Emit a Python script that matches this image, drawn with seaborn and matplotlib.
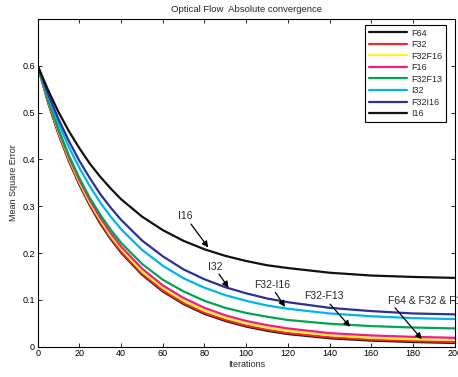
import numpy as np
import pandas as pd
import matplotlib
matplotlib.use("Agg")
import matplotlib.pyplot as plt
import seaborn as sns
from matplotlib.lines import Line2D

iterations = [0, 5, 10, 15, 20, 25, 30, 35, 40, 50, 60, 70, 80, 90, 100, 110, 120, 140, 160, 180, 200]

F64 = [0.600, 0.521, 0.454, 0.396, 0.346, 0.302, 0.263, 0.230, 0.201, 0.154, 0.118, 0.091, 0.070, 0.055, 0.043, 0.034, 0.027, 0.018, 0.013, 0.010, 0.008]
F32 = [0.600, 0.523, 0.456, 0.398, 0.348, 0.304, 0.265, 0.232, 0.203, 0.156, 0.120, 0.093, 0.072, 0.057, 0.045, 0.036, 0.029, 0.020, 0.015, 0.012, 0.010]
F32F16 = [0.600, 0.525, 0.459, 0.402, 0.352, 0.308, 0.271, 0.237, 0.209, 0.161, 0.126, 0.098, 0.078, 0.062, 0.050, 0.041, 0.034, 0.025, 0.019, 0.016, 0.015]
F16 = [0.600, 0.526, 0.462, 0.405, 0.356, 0.313, 0.276, 0.243, 0.214, 0.167, 0.131, 0.104, 0.083, 0.067, 0.055, 0.046, 0.039, 0.029, 0.024, 0.021, 0.019]
F32F13 = [0.600, 0.527, 0.464, 0.408, 0.360, 0.318, 0.282, 0.250, 0.222, 0.177, 0.143, 0.118, 0.098, 0.083, 0.072, 0.064, 0.057, 0.049, 0.044, 0.041, 0.039]
I32 = [0.600, 0.535, 0.477, 0.426, 0.382, 0.343, 0.308, 0.278, 0.251, 0.207, 0.173, 0.146, 0.126, 0.110, 0.098, 0.088, 0.081, 0.071, 0.065, 0.061, 0.059]
F32I16 = [0.600, 0.540, 0.486, 0.439, 0.397, 0.360, 0.326, 0.297, 0.271, 0.227, 0.193, 0.165, 0.144, 0.127, 0.114, 0.103, 0.095, 0.083, 0.076, 0.071, 0.069]
I16 = [0.600, 0.548, 0.501, 0.460, 0.424, 0.391, 0.363, 0.338, 0.315, 0.278, 0.249, 0.226, 0.208, 0.194, 0.183, 0.174, 0.168, 0.158, 0.152, 0.149, 0.147]

series_names = ["F64", "F32", "F32F16", "F16", "F32F13", "I32", "F32I16", "I16"]
series_values = [F64, F32, F32F16, F16, F32F13, I32, F32I16, I16]
series_colors = ["#111111", "#ee2b2b", "#fff12e", "#ec1e8c", "#00a551", "#00b4ee", "#2e3192", "#111111"]

x_ticks = [0, 20, 40, 60, 80, 100, 120, 140, 160, 180, 200]
y_ticks = [0, 0.1, 0.2, 0.3, 0.4, 0.5, 0.6]
y_tick_labels = ["0", "0.1", "0.2", "0.3", "0.4", "0.5", "0.6"]

annot_labels = ["I16", "I32", "F32-I16", "F32-F13", "F64 & F32 & F16"]
annot_text = [(71.0, 0.279), (85.0, 0.170), (112.2, 0.131), (137.3, 0.109), (187.0, 0.097)]
arrow_starts = [(73.5, 0.262), (87.0, 0.155), (114.0, 0.116), (140.2, 0.091), (171.4, 0.083)]
arrow_tips = [(81.8, 0.212), (91.5, 0.126), (118.6, 0.085), (149.8, 0.0425), (184.2, 0.016)]

rows = []
for name, vals in zip(series_names, series_values):
    for it, v in zip(iterations, vals):
        rows.append({"Iterations": it, "MSE": v, "series": name})
df = pd.DataFrame(rows)

sns.set_style("ticks")
plt.rcParams["font.family"] = ["Liberation Sans", "DejaVu Sans"]

fig = plt.figure(figsize=(4.58, 3.77), dpi=100)
ax = fig.add_axes([0.0823, 0.0804, 0.9105, 0.8692])

sns.lineplot(data=df, x="Iterations", y="MSE", hue="series", hue_order=series_names,
             palette=dict(zip(series_names, series_colors)), linewidth=1.6, ax=ax,
             legend=False, estimator=None, sort=False)

handles = [Line2D([0], [0], color=c, lw=1.6) for c in series_colors]
leg = ax.legend(handles, series_names, loc="upper right", fontsize=6.5, frameon=True,
                fancybox=False, edgecolor="black", framealpha=1, handlelength=4.2,
                labelspacing=0.28, borderpad=0.4, handletextpad=0.5,
                bbox_to_anchor=(0.979, 0.982), borderaxespad=0)
leg.get_frame().set_linewidth(0.8)

ax.set_xlim(0, 200)
ax.set_ylim(0, 0.7)
ax.set_xticks(x_ticks)
ax.set_yticks(y_ticks)
ax.set_yticklabels(y_tick_labels)
ax.tick_params(direction="in", length=3, width=0.6, labelsize=6.5, top=True, right=True,
               colors="black", pad=2)
for s in ax.spines.values():
    s.set_visible(True)
    s.set_linewidth(0.8)
    s.set_color("black")
ax.set_xlabel("Iterations", fontsize=6.5, labelpad=1)
ax.set_ylabel("Mean Square Error", fontsize=6.5, labelpad=3)
ax.set_title("Optical Flow  Absolute convergence", fontsize=6.8, pad=5)

for lab, txt, start, tip in zip(annot_labels, annot_text, arrow_starts, arrow_tips):
    ax.text(txt[0], txt[1], lab, ha="center", va="center", fontsize=7.5, clip_on=False)
    ax.annotate("", xy=tip, xytext=start, annotation_clip=False,
                arrowprops=dict(arrowstyle="-|>", color="black", lw=0.9,
                                mutation_scale=9, shrinkA=0, shrinkB=0))

fig.savefig("out.png", dpi=100)
